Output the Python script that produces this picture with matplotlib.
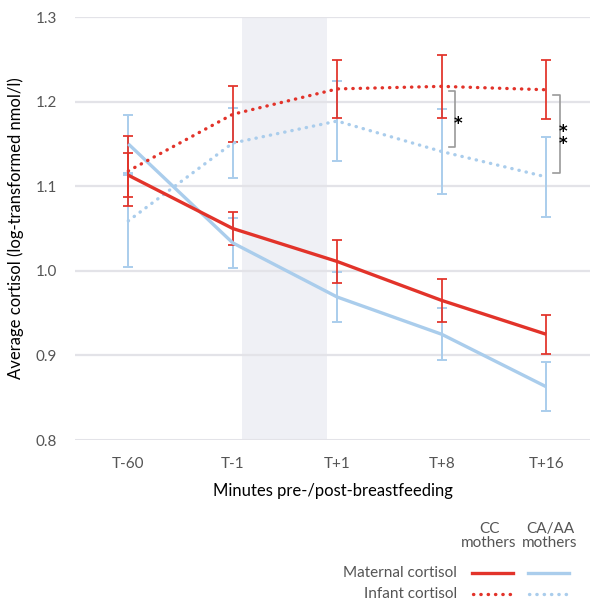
import numpy as np
import matplotlib.pyplot as plt
from matplotlib.lines import Line2D

plt.rcParams['font.family'] = ['Lato', 'DejaVu Sans']

# ---- data ----
timepoints = ['T-60', 'T-1', 'T+1', 'T+8', 'T+16']

maternal_cc = [1.113, 1.050, 1.011, 0.965, 0.925]
maternal_cc_err = [0.026, 0.020, 0.025, 0.025, 0.023]
maternal_caa = [1.150, 1.033, 0.969, 0.925, 0.863]
maternal_caa_err = [0.034, 0.030, 0.030, 0.031, 0.029]

infant_cc = [1.118, 1.185, 1.215, 1.218, 1.214]
infant_cc_err = [0.041, 0.033, 0.034, 0.037, 0.035]
infant_caa = [1.059, 1.151, 1.177, 1.141, 1.111]
infant_caa_err = [0.054, 0.041, 0.047, 0.050, 0.047]

# significance between infant groups: (time index, stars)
signif = [(3, '*'), (4, '*\n*')]

RED = '#e2332a'
BLUE = '#aacdec'
GRAY = '#555555'

x = np.arange(len(timepoints))

fig = plt.figure(figsize=(5.9, 6.02), dpi=100)
ax = fig.add_axes([75 / 590, 1 - 440 / 602, 1 - 75 / 590, (440 - 17) / 602])

# breastfeeding window
ax.axvspan(1.09, 1.90, color='#eff0f5', zorder=0, lw=0)

for yy in [0.8, 0.9, 1.0, 1.1, 1.2, 1.3]:
    ax.axhline(yy, color='#e3e3e8', lw=2.2 if yy == 0.8 else 1.6, zorder=1)

ekw = dict(fmt='none', elinewidth=1.4, capsize=3.8, capthick=1.4, zorder=3)
ax.errorbar(x, maternal_caa, yerr=maternal_caa_err, ecolor=BLUE, **ekw)
ax.errorbar(x, infant_caa, yerr=infant_caa_err, ecolor=BLUE, **ekw)
ax.errorbar(x, maternal_cc, yerr=maternal_cc_err, ecolor=RED, alpha=0.9, **ekw)
ax.errorbar(x, infant_cc, yerr=infant_cc_err, ecolor=RED, alpha=0.9, **ekw)

ax.plot(x, maternal_caa, color=BLUE, lw=2.4, zorder=4, solid_capstyle='butt')
ax.plot(x, maternal_cc, color=RED, lw=2.4, zorder=5, solid_capstyle='butt')
ax.plot(x, infant_caa, color=BLUE, lw=2.4, ls=(0, (0.1, 2.1)),
        dash_capstyle='round', zorder=4)
ax.plot(x, infant_cc, color=RED, lw=2.4, ls=(0, (0.1, 2.1)),
        dash_capstyle='round', zorder=5)

# significance brackets
for i, stars in signif:
    top = infant_cc[i] - 0.006
    bot = infant_caa[i] + 0.005
    xb = i + 0.13
    ax.plot([xb - 0.06, xb, xb, xb - 0.06], [top, top, bot, bot],
            color='#9a9a9a', lw=1.2, zorder=6)
    ax.text(xb - 0.01, (top + bot) / 2 - 0.005, stars, ha='left', va='center',
            fontsize=12, fontweight='bold', linespacing=0.6, color='black',
            family='DejaVu Sans', zorder=7)

ax.set_xlim(-0.51, 4.42)
ax.set_ylim(0.8, 1.3)
ax.set_xticks(x)
ax.set_xticklabels(timepoints)
ax.set_yticks([0.8, 0.9, 1.0, 1.1, 1.2, 1.3])
ax.set_yticklabels(['0.8', '0.9', '1.0', '1.1', '1.2', '1.3'])
ax.tick_params(length=0, labelsize=11, labelcolor=GRAY, pad=12)
ax.tick_params(axis='y', pad=13)
for s in ax.spines.values():
    s.set_visible(False)
ax.set_xlabel('Minutes pre-/post-breastfeeding', fontsize=12, labelpad=9)
ax.set_ylabel('Average cortisol (log-transformed nmol/l)', fontsize=12,
              labelpad=8)

# custom legend
def fx(px):
    return px / 590


def fy(py):
    return 1 - py / 602


fig.text(fx(489), fy(536), 'CC\nmothers', ha='center', va='center',
         fontsize=11, color=GRAY, linespacing=1.0)
fig.text(fx(550), fy(536), 'CA/AA\nmothers', ha='center', va='center',
         fontsize=11, color=GRAY, linespacing=1.0)
fig.text(fx(457), fy(573), 'Maternal cortisol', ha='right', va='center',
         fontsize=11, color=GRAY)
fig.text(fx(457), fy(594), 'Infant cortisol', ha='right', va='center',
         fontsize=11, color=GRAY)
fig.add_artist(Line2D([fx(472), fx(513)], [fy(573), fy(573)], color=RED, lw=2.4))
fig.add_artist(Line2D([fx(528), fx(569)], [fy(573), fy(573)], color=BLUE, lw=2.4))
fig.add_artist(Line2D([fx(473), fx(513)], [fy(594), fy(594)], color=RED, lw=2.4,
                      ls=(0, (0.1, 2.1)), dash_capstyle='round'))
fig.add_artist(Line2D([fx(529), fx(569)], [fy(594), fy(594)], color=BLUE, lw=2.4,
                      ls=(0, (0.1, 2.1)), dash_capstyle='round'))

fig.savefig('out.png', dpi=100)
